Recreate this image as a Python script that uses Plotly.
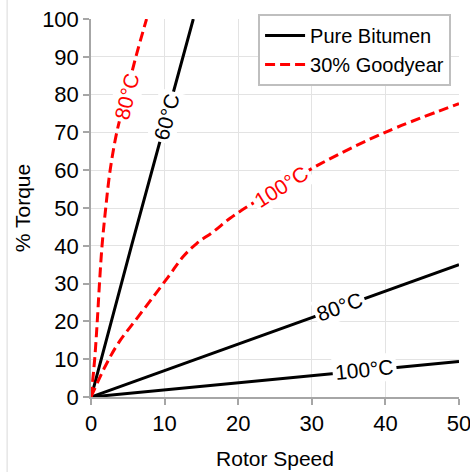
import plotly.graph_objects as go

# Pure bitumen (solid black) torque curves
pb60_x = [0.3, 5.5, 13.9]
pb60_y = [2.0, 40.0, 100.0]
pb80_x = [0, 20, 50]
pb80_y = [0, 14.0, 35.0]
pb100_x = [0, 20, 50]
pb100_y = [0, 3.8, 9.4]

# 30% Goodyear (dashed red) torque curves
gy80_x = [0, 0.5, 0.85, 1.15, 1.5, 2.0, 2.6, 3.5, 4.8, 6.1, 7.55]
gy80_y = [0, 10, 20, 30, 40, 50, 60, 70, 80, 90, 100]
gy100_x = [0, 1.9, 3.7, 6.4, 10.5, 12.5, 14.35, 16.6, 18.9, 21.6, 25.9, 30.9, 39.7, 50]
gy100_y = [0, 8.0, 14.2, 21.2, 31.8, 37.1, 40.6, 43.7, 47.3, 50.8, 55.6, 61.4, 69.8, 77.6]

x_ticks = [0, 10, 20, 30, 40, 50]
y_ticks = [0, 10, 20, 30, 40, 50, 60, 70, 80, 90, 100]

FONT = "Liberation Sans, Arial, sans-serif"
BLACK = "#000000"
RED = "#ff0000"

fig = go.Figure()

solid = dict(color=BLACK, width=3)
dashed = dict(color=RED, width=3, dash="10px,5px", shape="spline")

fig.add_trace(go.Scatter(x=pb60_x, y=pb60_y, mode="lines", line=solid,
                         name="Pure Bitumen", legendgroup="pb"))
fig.add_trace(go.Scatter(x=pb80_x, y=pb80_y, mode="lines", line=solid,
                         showlegend=False, legendgroup="pb"))
fig.add_trace(go.Scatter(x=pb100_x, y=pb100_y, mode="lines", line=solid,
                         showlegend=False, legendgroup="pb"))
fig.add_trace(go.Scatter(x=gy80_x, y=gy80_y, mode="lines", line=dashed,
                         name="30% Goodyear", legendgroup="gy"))
fig.add_trace(go.Scatter(x=gy100_x, y=gy100_y, mode="lines", line=dashed,
                         showlegend=False, legendgroup="gy"))

# Temperature labels sitting on the curves
labels = [
    ("60°C", 10.3, 74.2, -75, BLACK),
    ("80°C", 4.9, 79.4, -76, RED),
    ("100°C", 25.9, 55.6, -32, RED),
    ("80°C", 33.8, 24.0, -20, BLACK),
    ("100°C", 37.2, 7.2, -6, BLACK),
]
for text, lx, ly, ang, col in labels:
    fig.add_annotation(x=lx, y=ly, text=text, showarrow=False, textangle=ang,
                       font=dict(family=FONT, size=21, color=col),
                       bgcolor="white", borderpad=2)

# thin outer frame line at the left edge of the chart area
fig.add_shape(type="line", xref="paper", yref="paper", x0=-0.228, x1=-0.228,
              y0=-0.25, y1=1.06, line=dict(color="#d9d9d9", width=1))

axis_common = dict(
    showgrid=True, gridcolor="#e3e3e3", gridwidth=1,
    showline=True, linecolor="#a6a6a6", linewidth=1.5,
    ticks="outside", ticklen=6, tickcolor="#a6a6a6", tickwidth=1.5,
    tickfont=dict(family=FONT, size=22, color="#000000"),
    ticklabeloverflow="allow", automargin=False,
    zeroline=False, mirror=False,
)

fig.update_layout(
    width=470, height=472,
    margin=dict(l=91, r=11, t=19, b=75),
    paper_bgcolor="white", plot_bgcolor="white",
    font=dict(family=FONT, size=20, color="#000000"),
    showlegend=True,
    legend=dict(x=0.454, y=1.013, xanchor="left", yanchor="top",
                bgcolor="white", bordercolor="#bfbfbf", borderwidth=2,
                font=dict(family=FONT, size=20), tracegroupgap=0,
                itemwidth=40),
    xaxis=dict(axis_common, range=[0, 50], tickvals=x_ticks,
               title=dict(text="Rotor Speed", font=dict(family=FONT, size=21), standoff=16)),
    yaxis=dict(axis_common, range=[0, 100], tickvals=y_ticks,
               title=dict(text="% Torque", font=dict(family=FONT, size=21), standoff=6)),
)

fig.write_html("out.html")
